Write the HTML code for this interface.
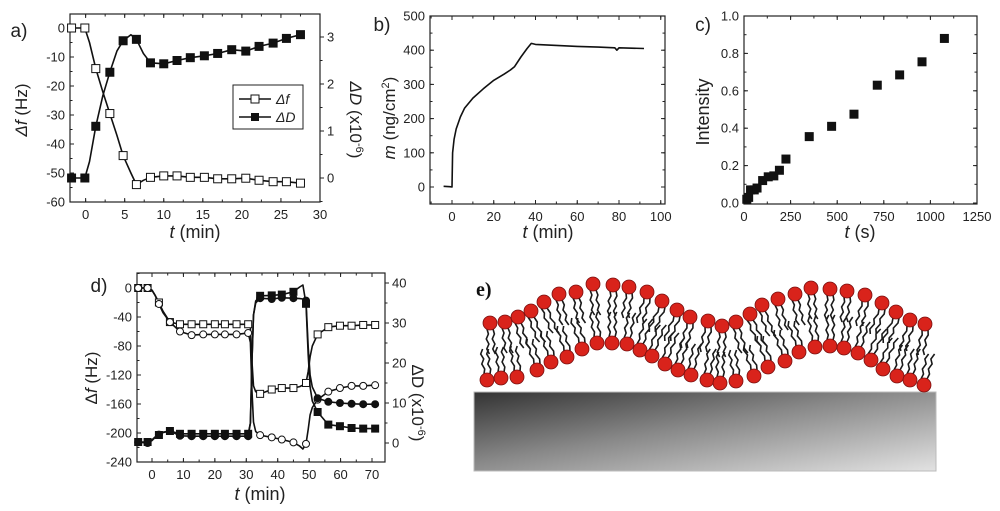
<!DOCTYPE html>
<html><head><meta charset="utf-8"><style>
html,body{margin:0;padding:0;background:#fff;}
svg{display:block;font-family:"Liberation Sans",sans-serif;}
</style></head><body>
<svg id="fig" width="1000" height="511" viewBox="0 0 1000 511"></svg>
<script>
// ---------- Panel a data ----------
const aLineT = [-2,-1.8,-0.1,0.5,1.3,2.2,3.1,4,4.8,5.8,6.5,7.4,8.3,10,11.7,13.4,15.2,16.9,18.7,20.5,22.2,24,25.7,27.5,28];
const aDf = [0,0,0,-5,-14,-22,-29.5,-37,-44,-50,-54,-52.5,-51.5,-51,-51,-51.5,-51.5,-52,-52,-51.8,-52.5,-53,-53,-53.5,-53.5];
const aDD = [0,0,0,0.35,1.1,1.75,2.25,2.7,2.92,3.05,2.95,2.65,2.45,2.43,2.5,2.56,2.6,2.65,2.73,2.7,2.8,2.87,2.97,3.05,3.06];
const aMarkT = [-1.8,-0.1,1.3,3.1,4.8,6.5,8.3,10,11.7,13.4,15.2,16.9,18.7,20.5,22.2,24,25.7,27.5];
const aXTicks = [0,5,10,15,20,25,30];
const aYTicks = [0,-10,-20,-30,-40,-50,-60];
const aY2Ticks = [0,1,2,3];
// ---------- Panel b data ----------
const bT = [-4,-1,0,0.3,1,2,4,6,10,15,20,25,28,30,33,36,38,40,50,60,70,78,79,80,92];
const bM = [2,1,0,100,140,170,205,230,260,287,312,330,342,352,380,405,420,417,414,411,409,407,400,407,405];
const bXTicks = [0,20,40,60,80,100];
const bYTicks = [0,100,200,300,400,500];
// ---------- Panel c data ----------
const cT = [15,25,35,55,70,100,130,160,190,225,350,470,590,715,835,955,1075];
const cI = [0.02,0.03,0.07,0.07,0.08,0.12,0.14,0.145,0.175,0.235,0.355,0.41,0.475,0.63,0.685,0.755,0.88];
const cXTicks = [0,250,500,750,1000,1250];
const cYTicks = [0,0.2,0.4,0.6,0.8,1.0];
// ---------- Panel d data ----------
const dLineT = [-5,-4.4,-1.4,0,1,2.2,3.5,5.7,8.9,12.6,16.3,20,23.2,26.9,30.6,31.3,31.8,32.3,33,34.4,38.1,41.3,45,47,48,49,49.7,50.3,51,52.7,56.1,59.8,63.5,67.2,71];
const dMarkT = [-4.4,-1.4,2.2,5.7,8.9,12.6,16.3,20,23.2,26.9,30.6,34.4,38.1,41.3,45,49,52.7,56.1,59.8,63.5,67.2,71];
const dDfSq = [0,0,0,-3,-10,-20,-32,-47,-50,-50,-50,-50,-50,-50,-50,-55,-100,-135,-143,-146,-140,-138,-138,-136,-134,-131,-115,-95,-80,-64,-54,-52,-52,-51,-51];
const dDfCi = [0,0,0,-3,-10,-22,-34,-47,-60,-65,-64,-64,-64,-64,-62,-75,-140,-185,-198,-203,-206,-209,-213,-218,-222,-215,-195,-175,-165,-154,-143,-138,-135,-135,-134];
const dDDSq = [0.3,0.25,0.25,0.8,1.5,2,2.6,3,2.3,2.3,2.3,2.3,2.3,2.3,2.3,5,20,32,35.5,36.8,36.9,37.1,37.8,39,39.5,34.8,22,14,10.5,7.75,4.6,4.2,3.75,3.6,3.6];
const dDDCi = [0.2,0.2,0,0.6,1.4,2.1,2.7,3,1.8,1.7,1.7,1.7,1.7,1.7,1.7,5,20,32,35,36.2,36,36.3,36.2,36.1,36,35.6,24,17,14,11.2,10.3,10,9.8,9.7,9.7];
const dXTicks = [0,10,20,30,40,50,60,70];
const dYTicks = [0,-40,-80,-120,-160,-200,-240];
const dY2Ticks = [0,10,20,30,40];

const NS = "http://www.w3.org/2000/svg";
const svg = document.getElementById('fig');
function el(tag, attrs, parent, text){
  const e = document.createElementNS(NS, tag);
  for (const k in attrs) e.setAttribute(k, attrs[k]);
  if (text !== undefined) e.textContent = text;
  (parent || svg).appendChild(e);
  return e;
}
function lin(d0,d1,r0,r1){ return v => r0 + (v-d0)/(d1-d0)*(r1-r0); }

function frame(g, x0,x1,y0,y1, xs, ys, xTicks, yTicks, xMinor, yMinor, yFmt, y2, y2Ticks, y2Minor){
  const box = el('rect',{x:x0,y:y0,width:x1-x0,height:y1-y0,fill:'none',stroke:'#222','stroke-width':1.2},g);
  
  
  const xt = el('g',{},g);
  
  
  xTicks.forEach(v=>{
    const x = xs(v);
    el('line',{x1:x,x2:x,y1:y1,y2:y1-4,stroke:'#222'},xt);
    el('line',{x1:x,x2:x,y1:y0,y2:y0+4,stroke:'#222'},xt);
    const t = el('text',{x:x,y:y1+17,'font-size':13,'text-anchor':'middle',fill:'#222'},xt,String(v));
    
    
  });
  xMinor.forEach(v=>{ const x=xs(v); if(x>x0&&x<x1){ el('line',{x1:x,x2:x,y1:y1,y2:y1-2.5,stroke:'#222'},xt); el('line',{x1:x,x2:x,y1:y0,y2:y0+2.5,stroke:'#222'},xt);} });
  const yt = el('g',{},g);
  
  
  yTicks.forEach(v=>{
    const y = ys(v);
    el('line',{x1:x0,x2:x0+4,y1:y,y2:y,stroke:'#222'},yt);
    if(!y2) el('line',{x1:x1,x2:x1-4,y1:y,y2:y,stroke:'#222'},yt);
    const t = el('text',{x:x0-5,y:y+4.5,'font-size':13,'text-anchor':'end',fill:'#222'},yt,yFmt(v));
    
    
  });
  yMinor.forEach(v=>{ const y=ys(v); if(y>y0&&y<y1){ el('line',{x1:x0,x2:x0+2.5,y1:y,y2:y,stroke:'#222'},yt); if(!y2) el('line',{x1:x1,x2:x1-2.5,y1:y,y2:y,stroke:'#222'},yt);} });
  if (y2){
    const y2g = el('g',{},g);
    
    
    y2Ticks.forEach(v=>{
      const y = y2(v);
      el('line',{x1:x1,x2:x1+4,y1:y,y2:y,stroke:'#222'},y2g);
      const t = el('text',{x:x1+7,y:y+4.5,'font-size':13,fill:'#222'},y2g,String(v));
      
      
    });
    y2Minor.forEach(v=>{ const y=y2(v); if(y>y0&&y<y1) el('line',{x1:x1,x2:x1+2.5,y1:y,y2:y,stroke:'#222'},y2g); });
  }
}
function path(g, T, V, xs, ys, name){
  let d=''; T.forEach((t,i)=>{ d += (i?'L':'M') + xs(t).toFixed(1)+','+ys(V[i]).toFixed(1); });
  const p = el('path',{d:d,fill:'none',stroke:'#111','stroke-width':1.6,'stroke-linejoin':'round'},g);
  
  
}
function markers(g, lineT, V, markT, xs, ys, shape, filled, name, sz){
  const mg = el('g',{},g);
  
  
  markT.forEach(t=>{
    const i = lineT.indexOf(t);
    const x = xs(t), y = ys(V[i]);
    let m;
    if (shape==='sq') m = el('rect',{x:x-sz/2,y:y-sz/2,width:sz,height:sz,fill:filled?'#111':'#fff',stroke:'#111','stroke-width':1},mg);
    else m = el('circle',{cx:x,cy:y,r:sz/2,fill:filled?'#111':'#fff',stroke:'#111','stroke-width':1},mg);
    
    
  });
}
function label(g, txt, x, y, size, rot, name, html){
  const t = el('text',{x:x,y:y,'font-size':size,'text-anchor':'middle',fill:'#222',transform:rot?`rotate(${rot} ${x} ${y})`:''},g);
  t.innerHTML = html || txt;
  
  
  return t;
}
function range(a,b,s){ const r=[]; for(let v=a; v<=b+1e-9; v+=s) r.push(+v.toFixed(6)); return r; }

// ===== Panel a =====
{
  const g = el('g',{});  
  const xs = lin(-2,30,70,320), ys = lin(0,-60,28,202), y2 = lin(0,3,178,37);
  frame(g,70,320,14,202,xs,ys,aXTicks,aYTicks,range(-2.5,30,2.5),range(-60,5,5),v=>String(v),y2,aY2Ticks,range(-0.5,3.5,0.5));
  path(g,aLineT,aDf,xs,ys,'delta-f-line');
  path(g,aLineT,aDD,xs,y2,'delta-d-line');
  markers(g,aLineT,aDf,aMarkT,xs,ys,'sq',false,'delta-f-markers',8);
  markers(g,aLineT,aDD,aMarkT,xs,y2,'sq',true,'delta-d-markers',8);
  label(g,'a)',19,37,19,0,'panel-label-a');
  label(g,'',27,110,17,-90,'y-axis-title','<tspan font-style="italic">Δf</tspan> (Hz)');
  label(g,'',195,238,18,0,'x-axis-title','<tspan font-style="italic">t</tspan> (min)');
  label(g,'',350,120,17,90,'right-axis-title','<tspan font-style="italic">ΔD</tspan> (x10<tspan dy="-6" font-size="11">-6</tspan><tspan dy="6">)</tspan>');
  const lg = el('g',{},g);  
  el('rect',{x:233,y:85,width:70,height:44,fill:'#fff',stroke:'#222','stroke-width':1},lg);
  el('line',{x1:239,x2:271,y1:99,y2:99,stroke:'#111','stroke-width':1.6},lg);
  el('rect',{x:251,y:95,width:8,height:8,fill:'#fff',stroke:'#111'},lg);
  el('line',{x1:239,x2:271,y1:117,y2:117,stroke:'#111','stroke-width':1.6},lg);
  el('rect',{x:251,y:113,width:8,height:8,fill:'#111'},lg);
  const l1 = el('text',{x:276,y:104,'font-size':14,'font-style':'italic',fill:'#222'},lg,'Δf');  
  const l2 = el('text',{x:276,y:122,'font-size':14,'font-style':'italic',fill:'#222'},lg,'ΔD');  
}
// ===== Panel b =====
{
  const g = el('g',{});  
  const xs = lin(0,80,452,619), ys = lin(0,500,187,16);
  frame(g,430,665,16,204,xs,ys,bXTicks,bYTicks,range(-10,100,10),range(-50,500,50),v=>String(v));
  path(g,bT,bM,xs,ys,'mass-line');
  label(g,'b)',382,31,19,0,'panel-label-b');
  label(g,'',395,118,17,-90,'y-axis-title','<tspan font-style="italic">m</tspan> (ng/cm<tspan dy="-6" font-size="11">2</tspan><tspan dy="6">)</tspan>');
  label(g,'',548,238,18,0,'x-axis-title','<tspan font-style="italic">t</tspan> (min)');
}
// ===== Panel c =====
{
  const g = el('g',{});  
  const xs = lin(0,1250,744,977), ys = lin(0,1,203,16);
  frame(g,744,977,16,204,xs,ys,cXTicks,cYTicks,range(0,1250,125),range(0,1,0.1),v=>v.toFixed(1));
  const mg = el('g',{},g);  
  cT.forEach((t,i)=>{
    const r = el('rect',{x:xs(t)-4.5,y:ys(cI[i])-4.5,width:9,height:9,fill:'#111'},mg);
    
    
  });
  label(g,'c)',703,31,19,0,'panel-label-c');
  label(g,'Intensity',709,112,18,-90,'y-axis-title');
  label(g,'',860,238,18,0,'x-axis-title','<tspan font-style="italic">t</tspan> (s)');
}
// ===== Panel d =====
{
  const g = el('g',{});  
  const xs = lin(0,70,152,372), ys = lin(0,-240,288,462), y2 = lin(0,40,443,283);
  frame(g,137,385,273,462,xs,ys,dXTicks,dYTicks,range(-5,75,5),range(-240,20,20),v=>String(v),y2,dY2Ticks,range(-5,40,5));
  path(g,dLineT,dDfSq,xs,ys,'delta-f-line-1');
  path(g,dLineT,dDfCi,xs,ys,'delta-f-line-2');
  path(g,dLineT,dDDSq,xs,y2,'delta-d-line-1');
  path(g,dLineT,dDDCi,xs,y2,'delta-d-line-2');
  markers(g,dLineT,dDfSq,dMarkT,xs,ys,'sq',false,'delta-f-square-markers',7);
  markers(g,dLineT,dDfCi,dMarkT,xs,ys,'ci',false,'delta-f-circle-markers',7);
  markers(g,dLineT,dDDSq,dMarkT,xs,y2,'sq',true,'delta-d-square-markers',7);
  markers(g,dLineT,dDDCi,dMarkT,xs,y2,'ci',true,'delta-d-circle-markers',7);
  label(g,'d)',99,292,19,0,'panel-label-d');
  label(g,'',97,378,17,-90,'y-axis-title','Δ<tspan font-style="italic">f</tspan> (Hz)');
  label(g,'',260,500,18,0,'x-axis-title','<tspan font-style="italic">t</tspan> (min)');
  label(g,'',412,403,17,90,'right-axis-title','ΔD (x10<tspan dy="-6" font-size="11">-6</tspan><tspan dy="6">)</tspan>');
}
// ===== Panel e (schematic) =====
{
  const g = el('g',{});  
  const defs = el('defs',{},g);
  const gr = el('linearGradient',{id:'subg',x1:'0',y1:'0',x2:'1',y2:'1'},defs);
  el('stop',{offset:'0','stop-color':'#333'},gr);
  el('stop',{offset:'0.45','stop-color':'#888'},gr);
  el('stop',{offset:'1','stop-color':'#e2e2e2'},gr);
  const sub = el('rect',{x:474,y:392,width:462,height:79,fill:'url(#subg)',stroke:'#bbb','stroke-width':1},g);
   
  const t = el('text',{x:476,y:296,'font-size':20,'font-weight':'bold','font-family':'Liberation Serif, serif',fill:'#111'},g,'e)');
   
  const topH = [[490,323],[505,322],[518,317],[531,311],[544,302],[559,294],[576,292],[593,284],[613,285],[629,287],[647,292],[662,301],[677,310],[690,317],[708,321],[722,326],[736,322],[750,314],[762,305],[778,299],[795,294],[811,288],[830,289],[847,291],[865,295],[882,303],[896,312],[910,320],[925,324]];
  const botH = [[487,380],[501,378],[517,377],[537,370],[551,362],[567,357],[582,349],[597,343],[612,343],[627,344],[640,350],[652,356],[665,364],[678,370],[691,375],[707,380],[720,383],[736,381],[754,376],[768,367],[785,361],[799,352],[815,347],[830,346],[844,348],[858,353],[871,360],[883,369],[897,376],[910,380],[924,385]];
  const tails = el('g',{},g);  
  function tail(x,y,dir,dx){
    [-3,3].forEach((o,k)=>{
      const L = 25, sx=x+o, sy=y+dir*6;
      let d=`M${sx},${sy}`;
      for(let s=1;s<=5;s++){ d+=` L${(sx+dx*s/5+(s%2?1.2:-1.2)).toFixed(1)},${(sy+dir*L*s/5).toFixed(1)}`; }
      el('path',{d:d,fill:'none',stroke:'#1a1a1a','stroke-width':1.6},tails);
    });
  }
  topH.forEach((p,i)=>{ const a=topH[Math.max(0,i-1)], b=topH[Math.min(topH.length-1,i+1)]; const sl=(b[1]-a[1])/(b[0]-a[0]||1); tail(p[0],p[1],1,-sl*18); });
  botH.forEach((p,i)=>{ const a=botH[Math.max(0,i-1)], b=botH[Math.min(botH.length-1,i+1)]; const sl=(b[1]-a[1])/(b[0]-a[0]||1); tail(p[0],p[1],-1,sl*18); });
  const heads = el('g',{},g);  
  topH.concat(botH).forEach(p=>{ el('circle',{cx:p[0],cy:p[1],r:7,fill:'#d9231b',stroke:'#7a1010','stroke-width':0.8},heads); });
}
</script>
</body></html>
